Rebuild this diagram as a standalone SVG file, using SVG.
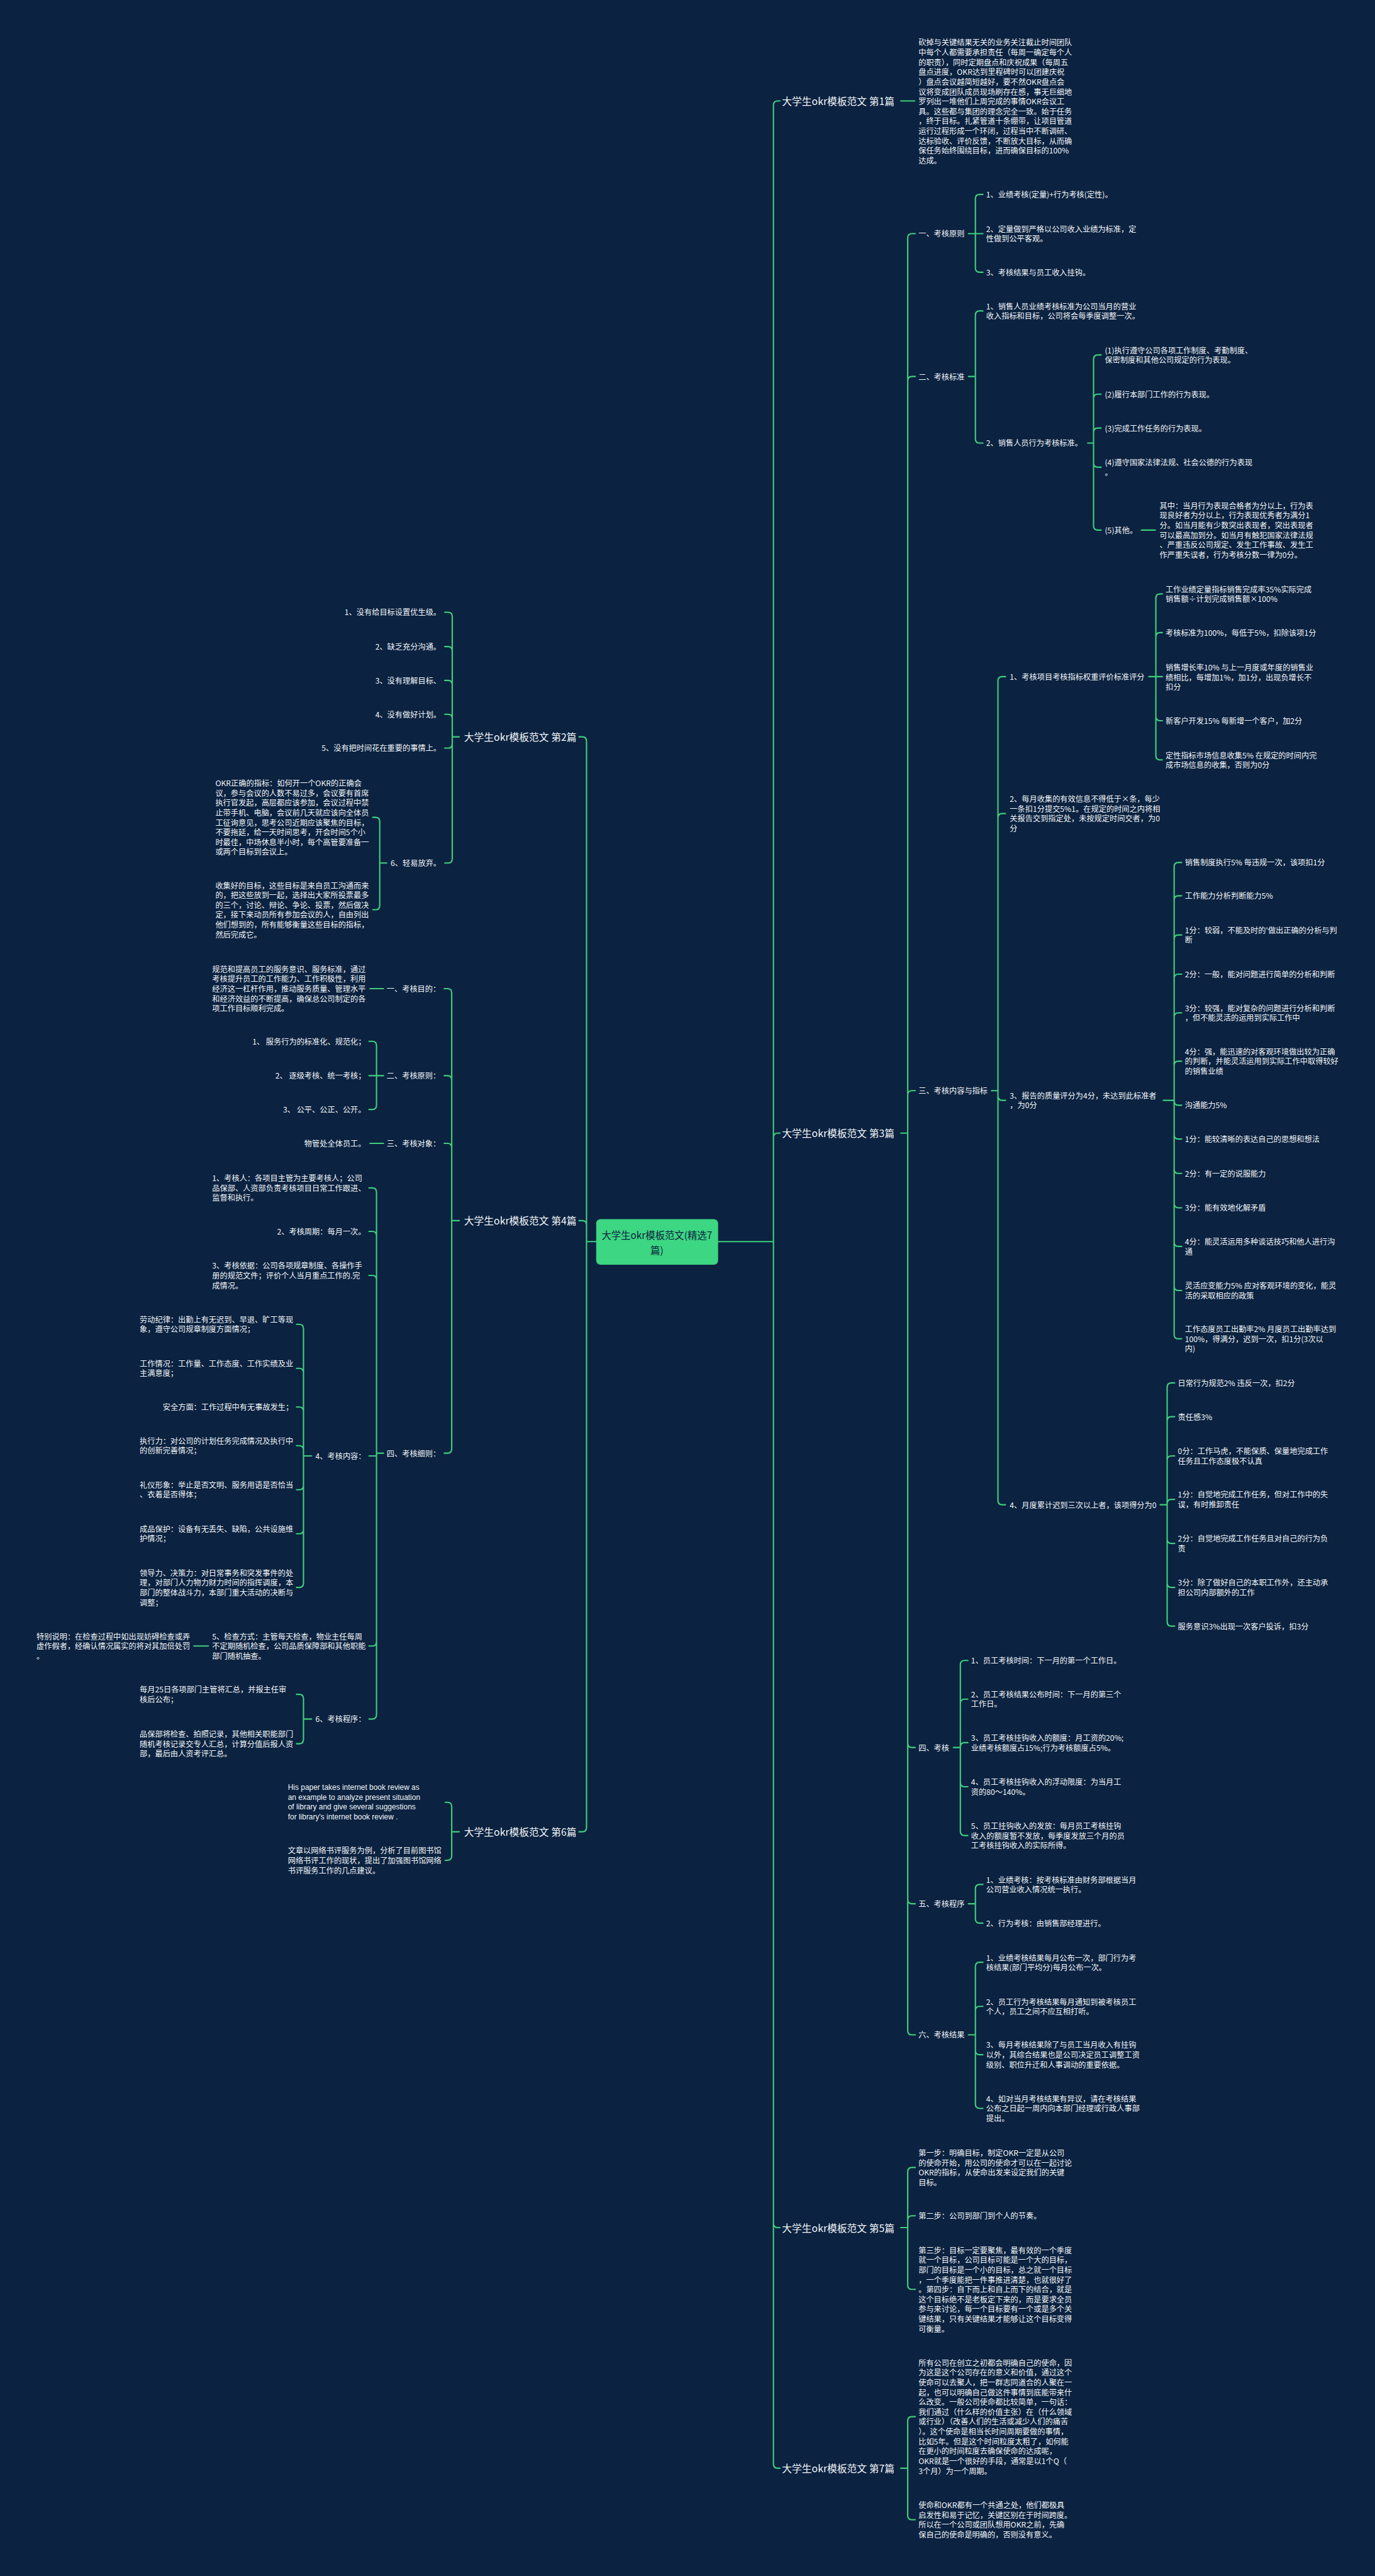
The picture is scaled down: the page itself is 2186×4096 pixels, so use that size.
<svg xmlns="http://www.w3.org/2000/svg" width="2186" height="4096" viewBox="0 0 2186 4096">
<style>
.c{fill:none;stroke:#3fcf7d;stroke-width:2.5;stroke-linecap:round}
.t{font-family:"Noto Sans CJK SC","Noto Sans",sans-serif;font-size:14.3px;fill:#f2f5f8;dominant-baseline:central}
.e{text-anchor:end}
.h{font-size:18.5px}
.en{font-family:"Liberation Sans",Arial,sans-serif;font-size:14px}
.rt{font-family:"Noto Sans CJK SC","Noto Sans",sans-serif;font-size:18px;fill:#0b2240;text-anchor:middle;dominant-baseline:central}
</style>
<rect width="2186" height="4096" fill="#0b2240"/>
<g transform="scale(0.85391)">
<g id="connectors">
<path class="c" d="M1337,2312H1440M1440,2312V196Q1440,188 1448,188H1452M1440,2312V2118Q1440,2110 1448,2110H1452M1440,2312V4140Q1440,4148 1448,4148H1452M1440,2312V4588Q1440,4596 1448,4596H1452"/>
<path class="c" d="M1110,2312H1092M1092,2312V1380Q1092,1372 1084,1372H1078M1092,2312V2281Q1092,2273 1084,2273H1078M1092,2312V3403Q1092,3411 1084,3411H1078"/>
<path class="c" d="M1677,188H1703"/>
<path class="c" d="M1677,2110H1690M1690,2110V443Q1690,435 1698,435H1704M1690,2110V709Q1690,701 1698,701H1704M1690,2110V2039Q1690,2031 1698,2031H1704M1690,2110V3246Q1690,3254 1698,3254H1704M1690,2110V3537Q1690,3545 1698,3545H1704M1690,2110V3781Q1690,3789 1698,3789H1704"/>
<path class="c" d="M1803,435H1816M1816,435V370Q1816,362 1824,362H1830M1816,435H1830M1816,435V499Q1816,507 1824,507H1830"/>
<path class="c" d="M1803,701H1816M1816,701V587Q1816,579 1824,579H1830M1816,701V817Q1816,825 1824,825H1830"/>
<path class="c" d="M2025,825H2036M2036,825V669Q2036,661 2044,661H2050M2036,825V742Q2036,734 2044,734H2050M2036,825V805Q2036,797 2044,797H2050M2036,825V862Q2036,870 2044,870H2050M2036,825V979Q2036,987 2044,987H2050"/>
<path class="c" d="M2125,987H2151"/>
<path class="c" d="M1846,2031H1858M1858,2031V1268Q1858,1260 1866,1260H1872M1858,2031V1523Q1858,1515 1866,1515H1872M1858,2031V2041Q1858,2049 1866,2049H1872M1858,2031V2794Q1858,2802 1866,2802H1872"/>
<path class="c" d="M2139,1260H2152M2152,1260V1114Q2152,1106 2160,1106H2164M2152,1260V1186Q2152,1178 2160,1178H2164M2152,1260H2164M2152,1260V1334Q2152,1342 2160,1342H2164M2152,1260V1407Q2152,1415 2160,1415H2164"/>
<path class="c" d="M2166,2049H2186M2186,2049V1614Q2186,1606 2194,1606H2200M2186,2049V1676Q2186,1668 2194,1668H2200M2186,2049V1749Q2186,1741 2194,1741H2200M2186,2049V1822Q2186,1814 2194,1814H2200M2186,2049V1894Q2186,1886 2194,1886H2200M2186,2049V1984Q2186,1976 2194,1976H2200M2186,2049V2050Q2186,2058 2194,2058H2200M2186,2049V2113Q2186,2121 2194,2121H2200M2186,2049V2177Q2186,2185 2194,2185H2200M2186,2049V2241Q2186,2249 2194,2249H2200M2186,2049V2313Q2186,2321 2194,2321H2200M2186,2049V2395Q2186,2403 2194,2403H2200M2186,2049V2485Q2186,2493 2194,2493H2200"/>
<path class="c" d="M2160,2802H2173M2173,2802V2583Q2173,2575 2181,2575H2187M2173,2802V2646Q2173,2638 2181,2638H2187M2173,2802V2719Q2173,2711 2181,2711H2187M2173,2802V2800Q2173,2792 2181,2792H2187M2173,2802V2866Q2173,2874 2181,2874H2187M2173,2802V2948Q2173,2956 2181,2956H2187M2173,2802V3020Q2173,3028 2181,3028H2187"/>
<path class="c" d="M1775,3254H1788M1788,3254V3100Q1788,3092 1796,3092H1802M1788,3254V3172Q1788,3164 1796,3164H1802M1788,3254V3253Q1788,3245 1796,3245H1802M1788,3254V3319Q1788,3327 1796,3327H1802M1788,3254V3410Q1788,3418 1796,3418H1802"/>
<path class="c" d="M1803,3545H1816M1816,3545V3517Q1816,3509 1824,3509H1830M1816,3545V3573Q1816,3581 1824,3581H1830"/>
<path class="c" d="M1803,3789H1816M1816,3789V3662Q1816,3654 1824,3654H1830M1816,3789V3744Q1816,3736 1824,3736H1830M1816,3789V3818Q1816,3826 1824,3826H1830M1816,3789V3918Q1816,3926 1824,3926H1830"/>
<path class="c" d="M1677,4148H1690M1690,4148V4044Q1690,4036 1698,4036H1704M1690,4148V4134Q1690,4126 1698,4126H1704M1690,4148V4255Q1690,4263 1698,4263H1704"/>
<path class="c" d="M1677,4596H1690M1690,4596V4508Q1690,4500 1698,4500H1704M1690,4596V4684Q1690,4692 1698,4692H1704"/>
<path class="c" d="M855,1372H842M842,1372V1148Q842,1140 834,1140H828M842,1372V1212Q842,1204 834,1204H828M842,1372V1275Q842,1267 834,1267H828M842,1372V1338Q842,1330 834,1330H828M842,1372V1385Q842,1393 834,1393H828M842,1372V1599Q842,1607 834,1607H828"/>
<path class="c" d="M720,1607H707M707,1607V1530Q707,1522 699,1522H694M707,1607V1686Q707,1694 699,1694H694"/>
<path class="c" d="M855,2273H841M841,2273V1849Q841,1841 833,1841H827M841,2273V2011Q841,2003 833,2003H827M841,2273V2137Q841,2129 833,2129H827M841,2273V2698Q841,2706 833,2706H827"/>
<path class="c" d="M714,1841H689"/>
<path class="c" d="M714,2003H701M701,2003V1947Q701,1939 693,1939H687M701,2003H687M701,2003V2058Q701,2066 693,2066H687"/>
<path class="c" d="M714,2129H689"/>
<path class="c" d="M714,2706H701M701,2706V2220Q701,2212 693,2212H687M701,2706V2301Q701,2293 693,2293H687M701,2706V2383Q701,2375 693,2375H687M701,2706V2711H687M701,2706V3057Q701,3065 693,3065H687M701,2706V3193Q701,3201 693,3201H687"/>
<path class="c" d="M580,2711H565M565,2711V2474Q565,2466 557,2466H552M565,2711V2556Q565,2548 557,2548H552M565,2711V2628Q565,2620 557,2620H552M565,2711V2700Q565,2692 557,2692H552M565,2711V2766Q565,2774 557,2774H552M565,2711V2848Q565,2856 557,2856H552M565,2711V2948Q565,2956 557,2956H552"/>
<path class="c" d="M388,3065H361"/>
<path class="c" d="M580,3201H565M565,3201V3163Q565,3155 557,3155H552M565,3201V3239Q565,3247 557,3247H552"/>
<path class="c" d="M855,3411H841M841,3411V3364Q841,3356 833,3356H829M841,3411V3456Q841,3464 833,3464H829"/>
</g>

<g id="root">
<rect x="1110" y="2270" width="227" height="85" rx="8" fill="#3dd682"/>
<text class="rt"><tspan x="1223" y="2299">大学生okr模板范文(精选7</tspan><tspan x="1223" y="2327">篇)</tspan></text>
</g>

<g id="ch1"><text class="t h" x="1456" y="188">大学生okr模板范文 第1篇</text></g>
<g id="ch1-1"><text class="t">
<tspan x="1710" y="79">砍掉与关键结果无关的业务关注截止时间团队</tspan>
<tspan x="1710" y="97.3">中每个人都需要承担责任（每周一确定每个人</tspan>
<tspan x="1710" y="115.6">的职责），同时定期盘点和庆祝成果（每周五</tspan>
<tspan x="1710" y="133.9">盘点进度，OKR达到里程碑时可以团建庆祝</tspan>
<tspan x="1710" y="152.2">）盘点会议越简短越好，要不然OKR盘点会</tspan>
<tspan x="1710" y="170.5">议将变成团队成员现场刷存在感，事无巨细地</tspan>
<tspan x="1710" y="188.8">罗列出一堆他们上周完成的事情OKR会议工</tspan>
<tspan x="1710" y="207.1">具。这些都与集团的理念完全一致。始于任务</tspan>
<tspan x="1710" y="225.4">，终于目标。扎紧管道十条绷带，让项目管道</tspan>
<tspan x="1710" y="243.7">运行过程形成一个环闭，过程当中不断调研、</tspan>
<tspan x="1710" y="262">达标验收、评价反馈，不断放大目标，从而确</tspan>
<tspan x="1710" y="280.3">保任务始终围绕目标，进而确保目标的100%</tspan>
<tspan x="1710" y="298.6">达成。</tspan></text></g>

<g id="ch3"><text class="t h" x="1456" y="2110">大学生okr模板范文 第3篇</text></g>
<g id="c3a"><text class="t" x="1710" y="435">一、考核原则</text></g>
<g id="c3a1"><text class="t" x="1836" y="362">1、业绩考核(定量)+行为考核(定性)。</text></g>
<g id="c3a2"><text class="t"><tspan x="1836" y="426">2、定量做到严格以公司收入业绩为标准，定</tspan><tspan x="1836" y="444">性做到公平客观。</tspan></text></g>
<g id="c3a3"><text class="t" x="1836" y="507">3、考核结果与员工收入挂钩。</text></g>
<g id="c3b"><text class="t" x="1710" y="701">二、考核标准</text></g>
<g id="c3b1"><text class="t"><tspan x="1836" y="570">1、销售人员业绩考核标准为公司当月的营业</tspan><tspan x="1836" y="588">收入指标和目标，公司将会每季度调整一次。</tspan></text></g>
<g id="c3b2"><text class="t" x="1836" y="825">2、销售人员行为考核标准。</text></g>
<g id="c3b2a"><text class="t"><tspan x="2057" y="652">(1)执行遵守公司各项工作制度、考勤制度、</tspan><tspan x="2057" y="670">保密制度和其他公司规定的行为表现。</tspan></text></g>
<g id="c3b2b"><text class="t" x="2057" y="734">(2)履行本部门工作的行为表现。</text></g>
<g id="c3b2c"><text class="t" x="2057" y="797">(3)完成工作任务的行为表现。</text></g>
<g id="c3b2d"><text class="t"><tspan x="2057" y="861">(4)遵守国家法律法规、社会公德的行为表现</tspan><tspan x="2057" y="879">。</tspan></text></g>
<g id="c3b2e"><text class="t" x="2057" y="987">(5)其他。</text></g>
<g id="c3b2e1"><text class="t">
<tspan x="2159" y="941.3">其中：当月行为表现合格者为分以上，行为表</tspan>
<tspan x="2159" y="959.6">现良好者为分以上，行为表现优秀者为满分1</tspan>
<tspan x="2159" y="977.9">分。如当月能有少数突出表现者，突出表现者</tspan>
<tspan x="2159" y="996.2">可以最高加到分。如当月有触犯国家法律法规</tspan>
<tspan x="2159" y="1014.5">、严重违反公司规定、发生工作事故、发生工</tspan>
<tspan x="2159" y="1032.8">作严重失误者，行为考核分数一律为0分。</tspan></text></g>

<g id="c3c"><text class="t" x="1710" y="2031">三、考核内容与指标</text></g>
<g id="c3c1"><text class="t" x="1880" y="1260">1、考核项目考核指标权重评价标准评分</text></g>
<g id="c3c1a"><text class="t"><tspan x="2170" y="1097">工作业绩定量指标销售完成率35%实际完成</tspan><tspan x="2170" y="1115">销售额÷计划完成销售额×100%</tspan></text></g>
<g id="c3c1b"><text class="t" x="2170" y="1178">考核标准为100%，每低于5%，扣除该项1分</text></g>
<g id="c3c1c"><text class="t"><tspan x="2170" y="1242.7">销售增长率10% 与上一月度或年度的销售业</tspan><tspan x="2170" y="1261">绩相比，每增加1%，加1分，出现负增长不</tspan><tspan x="2170" y="1279.3">扣分</tspan></text></g>
<g id="c3c1d"><text class="t" x="2170" y="1342">新客户开发15% 每新增一个客户，加2分</text></g>
<g id="c3c1e"><text class="t"><tspan x="2170" y="1406">定性指标市场信息收集5% 在规定的时间内完</tspan><tspan x="2170" y="1424">成市场信息的收集，否则为0分</tspan></text></g>
<g id="c3c2"><text class="t"><tspan x="1880" y="1487.5">2、每月收集的有效信息不得低于×条，每少</tspan><tspan x="1880" y="1505.8">一条扣1分提交5%1。在规定的时间之内将相</tspan><tspan x="1880" y="1524.1">关报告交到指定处，未按规定时间交者，为0</tspan><tspan x="1880" y="1542.4">分</tspan></text></g>
<g id="c3c3"><text class="t"><tspan x="1880" y="2040">3、报告的质量评分为4分，未达到此标准者</tspan><tspan x="1880" y="2058">，为0分</tspan></text></g>
<g id="c3c3a"><text class="t" x="2206" y="1606">销售制度执行5% 每违规一次，该项扣1分</text></g>
<g id="c3c3b"><text class="t" x="2206" y="1668">工作能力分析判断能力5%</text></g>
<g id="c3c3c"><text class="t"><tspan x="2206" y="1732">1分：较弱，不能及时的'做出正确的分析与判</tspan><tspan x="2206" y="1750">断</tspan></text></g>
<g id="c3c3d"><text class="t" x="2206" y="1814">2分：一般，能对问题进行简单的分析和判断</text></g>
<g id="c3c3e"><text class="t"><tspan x="2206" y="1877">3分：较强，能对复杂的问题进行分析和判断</tspan><tspan x="2206" y="1895">，但不能灵活的运用到实际工作中</tspan></text></g>
<g id="c3c3f"><text class="t"><tspan x="2206" y="1957.7">4分：强，能迅速的对客观环境做出较为正确</tspan><tspan x="2206" y="1976">的判断，并能灵活运用到实际工作中取得较好</tspan><tspan x="2206" y="1994.3">的销售业绩</tspan></text></g>
<g id="c3c3g"><text class="t" x="2206" y="2058">沟通能力5%</text></g>
<g id="c3c3h"><text class="t" x="2206" y="2121">1分：能较清晰的表达自己的思想和想法</text></g>
<g id="c3c3i"><text class="t" x="2206" y="2185">2分：有一定的说服能力</text></g>
<g id="c3c3j"><text class="t" x="2206" y="2249">3分：能有效地化解矛盾</text></g>
<g id="c3c3k"><text class="t"><tspan x="2206" y="2312">4分：能灵活运用多种谈话技巧和他人进行沟</tspan><tspan x="2206" y="2330">通</tspan></text></g>
<g id="c3c3l"><text class="t"><tspan x="2206" y="2394">灵活应变能力5% 应对客观环境的变化，能灵</tspan><tspan x="2206" y="2412">活的采取相应的政策</tspan></text></g>
<g id="c3c3m"><text class="t"><tspan x="2206" y="2474.7">工作态度员工出勤率2% 月度员工出勤率达到</tspan><tspan x="2206" y="2493">100%，得满分，迟到一次，扣1分(3次以</tspan><tspan x="2206" y="2511.3">内)</tspan></text></g>
<g id="c3c4"><text class="t" x="1880" y="2802">4、月度累计迟到三次以上者，该项得分为0</text></g>
<g id="c3c4a"><text class="t" x="2193" y="2575">日常行为规范2% 违反一次，扣2分</text></g>
<g id="c3c4b"><text class="t" x="2193" y="2638">责任感3%</text></g>
<g id="c3c4c"><text class="t"><tspan x="2193" y="2702">0分：工作马虎，不能保质、保量地完成工作</tspan><tspan x="2193" y="2720">任务且工作态度极不认真</tspan></text></g>
<g id="c3c4d"><text class="t"><tspan x="2193" y="2783">1分：自觉地完成工作任务，但对工作中的失</tspan><tspan x="2193" y="2801">误，有时推卸责任</tspan></text></g>
<g id="c3c4e"><text class="t"><tspan x="2193" y="2865">2分：自觉地完成工作任务且对自己的行为负</tspan><tspan x="2193" y="2883">责</tspan></text></g>
<g id="c3c4f"><text class="t"><tspan x="2193" y="2947">3分：除了做好自己的本职工作外，还主动承</tspan><tspan x="2193" y="2965">担公司内部额外的工作</tspan></text></g>
<g id="c3c4g"><text class="t" x="2193" y="3028">服务意识3%出现一次客户投诉，扣3分</text></g>

<g id="c3d"><text class="t" x="1710" y="3254">四、考核</text></g>
<g id="c3d1"><text class="t" x="1808" y="3092">1、员工考核时间：下一月的第一个工作日。</text></g>
<g id="c3d2"><text class="t"><tspan x="1808" y="3155">2、员工考核结果公布时间：下一月的第三个</tspan><tspan x="1808" y="3173">工作日。</tspan></text></g>
<g id="c3d3"><text class="t"><tspan x="1808" y="3236">3、员工考核挂钩收入的额度：月工资的20%;</tspan><tspan x="1808" y="3254">业绩考核额度占15%;行为考核额度占5%。</tspan></text></g>
<g id="c3d4"><text class="t"><tspan x="1808" y="3318">4、员工考核挂钩收入的浮动限度：为当月工</tspan><tspan x="1808" y="3336">资的80～140%。</tspan></text></g>
<g id="c3d5"><text class="t"><tspan x="1808" y="3399.7">5、员工挂钩收入的发放：每月员工考核挂钩</tspan><tspan x="1808" y="3418">收入的额度暂不发放，每季度发放三个月的员</tspan><tspan x="1808" y="3436.3">工考核挂钩收入的实际所得。</tspan></text></g>
<g id="c3e"><text class="t" x="1710" y="3545">五、考核程序</text></g>
<g id="c3e1"><text class="t"><tspan x="1836" y="3500">1、业绩考核：按考核标准由财务部根据当月</tspan><tspan x="1836" y="3518">公司营业收入情况统一执行。</tspan></text></g>
<g id="c3e2"><text class="t" x="1836" y="3581">2、行为考核：由销售部经理进行。</text></g>
<g id="c3f"><text class="t" x="1710" y="3789">六、考核结果</text></g>
<g id="c3f1"><text class="t"><tspan x="1836" y="3645">1、业绩考核结果每月公布一次，部门行为考</tspan><tspan x="1836" y="3663">核结果(部门平均分)每月公布一次。</tspan></text></g>
<g id="c3f2"><text class="t"><tspan x="1836" y="3727">2、员工行为考核结果每月通知到被考核员工</tspan><tspan x="1836" y="3745">个人，员工之间不应互相打听。</tspan></text></g>
<g id="c3f3"><text class="t"><tspan x="1836" y="3807.7">3、每月考核结果除了与员工当月收入有挂钩</tspan><tspan x="1836" y="3826">以外，其综合结果也是公司决定员工调整工资</tspan><tspan x="1836" y="3844.3">级别、职位升迁和人事调动的重要依据。</tspan></text></g>
<g id="c3f4"><text class="t"><tspan x="1836" y="3907.7">4、如对当月考核结果有异议，请在考核结果</tspan><tspan x="1836" y="3926">公布之日起一周内向本部门经理或行政人事部</tspan><tspan x="1836" y="3944.3">提出。</tspan></text></g>

<g id="ch5"><text class="t h" x="1456" y="4148">大学生okr模板范文 第5篇</text></g>
<g id="c5a"><text class="t"><tspan x="1710" y="4008.5">第一步：明确目标，制定OKR一定是从公司</tspan><tspan x="1710" y="4026.8">的使命开始，用公司的使命才可以在一起讨论</tspan><tspan x="1710" y="4045.1">OKR的指标，从使命出发来设定我们的关键</tspan><tspan x="1710" y="4063.4">目标。</tspan></text></g>
<g id="c5b"><text class="t" x="1710" y="4126">第二步：公司到部门到个人的节奏。</text></g>
<g id="c5c"><text class="t">
<tspan x="1710" y="4189.8">第三步：目标一定要聚焦，最有效的一个季度</tspan>
<tspan x="1710" y="4208.1">就一个目标，公司目标可能是一个大的目标，</tspan>
<tspan x="1710" y="4226.4">部门的目标是一个小的目标，总之就一个目标</tspan>
<tspan x="1710" y="4244.7">，一个季度能把一件事推进清楚，也就很好了</tspan>
<tspan x="1710" y="4263">。第四步：自下而上和自上而下的结合，就是</tspan>
<tspan x="1710" y="4281.3">这个目标绝不是老板定下来的，而是要求全员</tspan>
<tspan x="1710" y="4299.6">参与来讨论，每一个目标要有一个或是多个关</tspan>
<tspan x="1710" y="4317.9">键结果，只有关键结果才能够让这个目标变得</tspan>
<tspan x="1710" y="4336.2">可衡量。</tspan></text></g>

<g id="ch7"><text class="t h" x="1456" y="4596">大学生okr模板范文 第7篇</text></g>
<g id="c7a"><text class="t">
<tspan x="1710" y="4399.4">所有公司在创立之初都会明确自己的使命，因</tspan>
<tspan x="1710" y="4417.7">为这是这个公司存在的意义和价值，通过这个</tspan>
<tspan x="1710" y="4436">使命可以去聚人，把一群志同道合的人聚在一</tspan>
<tspan x="1710" y="4454.3">起，也可以明确自己做这件事情到底能带来什</tspan>
<tspan x="1710" y="4472.6">么改变。一般公司使命都比较简单，一句话：</tspan>
<tspan x="1710" y="4490.9">我们通过（什么样的价值主张）在（什么领域</tspan>
<tspan x="1710" y="4509.2">或行业）（改善人们的生活或减少人们的痛苦</tspan>
<tspan x="1710" y="4527.5">）。这个使命是相当长时间周期要做的事情，</tspan>
<tspan x="1710" y="4545.8">比如5年。但是这个时间粒度太粗了，如何能</tspan>
<tspan x="1710" y="4564.1">在更小的时间粒度去确保使命的达成呢，</tspan>
<tspan x="1710" y="4582.4">OKR就是一个很好的手段，通常是以1个Q（</tspan>
<tspan x="1710" y="4600.7">3个月）为一个周期。</tspan></text></g>
<g id="c7b"><text class="t"><tspan x="1710" y="4664.6">使命和OKR都有一个共通之处，他们都极具</tspan><tspan x="1710" y="4682.9">启发性和易于记忆，关键区别在于时间跨度。</tspan><tspan x="1710" y="4701.2">所以在一个公司或团队想用OKR之前，先确</tspan><tspan x="1710" y="4719.5">保自己的使命是明确的，否则没有意义。</tspan></text></g>

<g id="ch2"><text class="t h" x="864" y="1372">大学生okr模板范文 第2篇</text></g>
<g id="c2a"><text class="t e" x="821" y="1140">1、没有给目标设置优生级。</text></g>
<g id="c2b"><text class="t e" x="821" y="1204">2、缺乏充分沟通。</text></g>
<g id="c2c"><text class="t e" x="821" y="1267">3、没有理解目标、</text></g>
<g id="c2d"><text class="t e" x="821" y="1330">4、没有做好计划。</text></g>
<g id="c2e"><text class="t e" x="821" y="1393">5、没有把时间花在重要的事情上。</text></g>
<g id="c2f"><text class="t e" x="821" y="1607">6、轻易放弃。</text></g>
<g id="c2f1"><text class="t">
<tspan x="401" y="1458">OKR正确的指标：如何开一个OKR的正确会</tspan>
<tspan x="401" y="1476.3">议，参与会议的人数不易过多，会议要有首席</tspan>
<tspan x="401" y="1494.6">执行官发起，高层都应该参加，会议过程中禁</tspan>
<tspan x="401" y="1512.9">止带手机、电脑，会议前几天就应该向全体员</tspan>
<tspan x="401" y="1531.2">工征询意见，思考公司近期应该聚焦的目标，</tspan>
<tspan x="401" y="1549.5">不要拖延，给一天时间思考，开会时间5个小</tspan>
<tspan x="401" y="1567.8">时最佳，中场休息半小时，每个高管要准备一</tspan>
<tspan x="401" y="1586.1">或两个目标到会议上。</tspan></text></g>
<g id="c2f2"><text class="t">
<tspan x="401" y="1648.3">收集好的目标，这些目标是来自员工沟通而来</tspan>
<tspan x="401" y="1666.6">的，把这些放到一起，选择出大家所投票最多</tspan>
<tspan x="401" y="1684.9">的三个，讨论、辩论、争论、投票，然后做决</tspan>
<tspan x="401" y="1703.2">定，接下来动员所有参加会议的人，自由列出</tspan>
<tspan x="401" y="1721.5">他们想到的，所有能够衡量这些目标的指标，</tspan>
<tspan x="401" y="1739.8">然后完成它。</tspan></text></g>

<g id="ch4"><text class="t h" x="864" y="2273">大学生okr模板范文 第4篇</text></g>
<g id="c4a"><text class="t e" x="820" y="1841">一、考核目的：</text></g>
<g id="c4a1"><text class="t">
<tspan x="395" y="1804.4">规范和提高员工的服务意识、服务标准，通过</tspan>
<tspan x="395" y="1822.7">考核提升员工的工作能力、工作积极性，利用</tspan>
<tspan x="395" y="1841">经济这一杠杆作用，推动服务质量、管理水平</tspan>
<tspan x="395" y="1859.3">和经济效益的不断提高，确保总公司制定的各</tspan>
<tspan x="395" y="1877.6">项工作目标顺利完成。</tspan></text></g>
<g id="c4b"><text class="t e" x="820" y="2003">二、考核原则：</text></g>
<g id="c4b1"><text class="t e" x="681" y="1939">1、 服务行为的标准化、规范化；</text></g>
<g id="c4b2"><text class="t e" x="681" y="2003">2、 逐级考核、统一考核；</text></g>
<g id="c4b3"><text class="t e" x="681" y="2066">3、 公平、公正、公开。</text></g>
<g id="c4c"><text class="t e" x="820" y="2129">三、考核对象：</text></g>
<g id="c4c1"><text class="t e" x="681" y="2129">物管处全体员工。</text></g>
<g id="c4d"><text class="t e" x="820" y="2706">四、考核细则：</text></g>
<g id="c4d1"><text class="t"><tspan x="395" y="2193.7">1、考核人：各项目主管为主要考核人；公司</tspan><tspan x="395" y="2212">品保部、人资部负责考核项目日常工作跟进、</tspan><tspan x="395" y="2230.3">监督和执行。</tspan></text></g>
<g id="c4d2"><text class="t e" x="681" y="2293">2、考核周期：每月一次。</text></g>
<g id="c4d3"><text class="t"><tspan x="395" y="2356.7">3、考核依据：公司各项规章制度、各操作手</tspan><tspan x="395" y="2375">册的规范文件；评价个人当月重点工作的.完</tspan><tspan x="395" y="2393.3">成情况。</tspan></text></g>
<g id="c4d4"><text class="t e" x="681" y="2711">4、考核内容：</text></g>
<g id="c4d4a"><text class="t"><tspan x="260" y="2457">劳动纪律：出勤上有无迟到、早退、旷工等现</tspan><tspan x="260" y="2475">象，遵守公司规章制度方面情况；</tspan></text></g>
<g id="c4d4b"><text class="t"><tspan x="260" y="2539">工作情况：工作量、工作态度、工作实绩及业</tspan><tspan x="260" y="2557">主满意度；</tspan></text></g>
<g id="c4d4c"><text class="t e" x="546" y="2620">安全方面：工作过程中有无事故发生；</text></g>
<g id="c4d4d"><text class="t"><tspan x="260" y="2683">执行力：对公司的计划任务完成情况及执行中</tspan><tspan x="260" y="2701">的创新完善情况；</tspan></text></g>
<g id="c4d4e"><text class="t"><tspan x="260" y="2765">礼仪形象：举止是否文明、服务用语是否恰当</tspan><tspan x="260" y="2783">、衣着是否得体；</tspan></text></g>
<g id="c4d4f"><text class="t"><tspan x="260" y="2847">成品保护：设备有无丢失、缺陷，公共设施维</tspan><tspan x="260" y="2865">护情况；</tspan></text></g>
<g id="c4d4g"><text class="t"><tspan x="260" y="2928.6">领导力、决策力：对日常事务和突发事件的处</tspan><tspan x="260" y="2946.9">理，对部门人力物力财力时间的指挥调度，本</tspan><tspan x="260" y="2965.2">部门的整体战斗力，本部门重大活动的决断与</tspan><tspan x="260" y="2983.5">调整；</tspan></text></g>
<g id="c4d5"><text class="t"><tspan x="395" y="3046.7">5、检查方式：主管每天检查，物业主任每周</tspan><tspan x="395" y="3065">不定期随机检查，公司品质保障部和其他职能</tspan><tspan x="395" y="3083.3">部门随机抽查。</tspan></text></g>
<g id="c4d5a"><text class="t"><tspan x="68" y="3046.7">特别说明：在检查过程中如出现妨碍检查或弄</tspan><tspan x="68" y="3065">虚作假者，经确认情况属实的将对其加倍处罚</tspan><tspan x="68" y="3083.3">。</tspan></text></g>
<g id="c4d6"><text class="t e" x="681" y="3201">6、考核程序：</text></g>
<g id="c4d6a"><text class="t"><tspan x="260" y="3146">每月25日各项部门主管将汇总，并报主任审</tspan><tspan x="260" y="3164">核后公布；</tspan></text></g>
<g id="c4d6b"><text class="t"><tspan x="260" y="3228.7">品保部将检查、拍照记录，其他相关职能部门</tspan><tspan x="260" y="3247">随机考核记录交专人汇总，计算分值后报人资</tspan><tspan x="260" y="3265.3">部，最后由人资考评汇总。</tspan></text></g>

<g id="ch6"><text class="t h" x="864" y="3411">大学生okr模板范文 第6篇</text></g>
<g id="c6a"><text class="t en"><tspan x="536" y="3328.5">His paper takes internet book review as</tspan><tspan x="536" y="3346.8">an example to analyze present situation</tspan><tspan x="536" y="3365.1">of library and give several suggestions</tspan><tspan x="536" y="3383.4">for library's internet book review .</tspan></text></g>
<g id="c6b"><text class="t"><tspan x="536" y="3445.7">文章以网络书评服务为例，分析了目前图书馆</tspan><tspan x="536" y="3464">网络书评工作的现状，提出了加强图书馆网络</tspan><tspan x="536" y="3482.3">书评服务工作的几点建议。</tspan></text></g>
</g>
</svg>
